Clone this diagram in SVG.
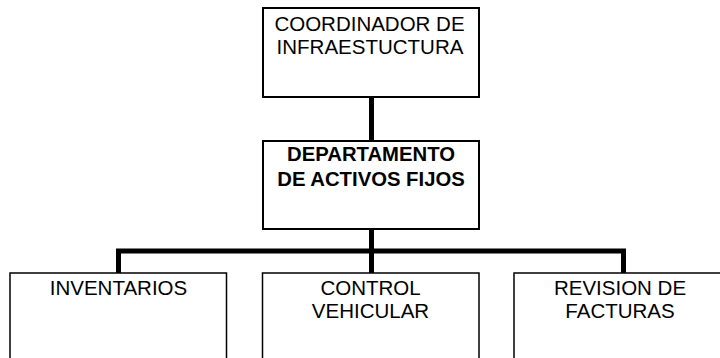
<svg xmlns="http://www.w3.org/2000/svg" width="720" height="358" viewBox="0 0 720 358">
<style>
.box{fill:#fff;stroke:#000;stroke-width:2}
.sub{fill:#fff;stroke:#000;stroke-width:1.5}
.t{font-family:"Liberation Sans",Arial,sans-serif;font-size:20.5px;fill:#000;text-anchor:middle}
.b{font-weight:bold;font-size:20.3px}
.conn{fill:none;stroke:#000;stroke-width:5;stroke-linejoin:miter;stroke-linecap:butt}
</style>
<rect width="720" height="358" fill="#fff"/>
<g id="connectors">
<path class="conn" d="M371.5 97 V141"/>
<path class="conn" d="M371.5 229 V273"/>
<path class="conn" d="M118.5 273 V251 H623.5 V273"/>
</g>
<g id="coordinador">
<rect class="box" x="263" y="8" width="216" height="89"/>
<text class="t" x="369.5" y="31">COORDINADOR DE</text>
<text class="t" x="370" y="54">INFRAESTUCTURA</text>
</g>
<g id="departamento">
<rect class="box" x="263" y="141" width="216" height="88"/>
<text class="t b" x="371" y="161">DEPARTAMENTO</text>
<text class="t b" x="371" y="186">DE ACTIVOS FIJOS</text>
</g>
<g id="inventarios">
<rect class="sub" x="10" y="273" width="216.5" height="100"/>
<text class="t" x="118.5" y="295">INVENTARIOS</text>
</g>
<g id="control">
<rect class="sub" x="262.5" y="273" width="216.5" height="100"/>
<text class="t" x="370.5" y="295">CONTROL</text>
<text class="t" x="370.5" y="318">VEHICULAR</text>
</g>
<g id="revision">
<rect class="sub" x="514" y="273" width="216.5" height="100"/>
<text class="t" x="620" y="295">REVISION DE</text>
<text class="t" x="620" y="318">FACTURAS</text>
</g>
</svg>
